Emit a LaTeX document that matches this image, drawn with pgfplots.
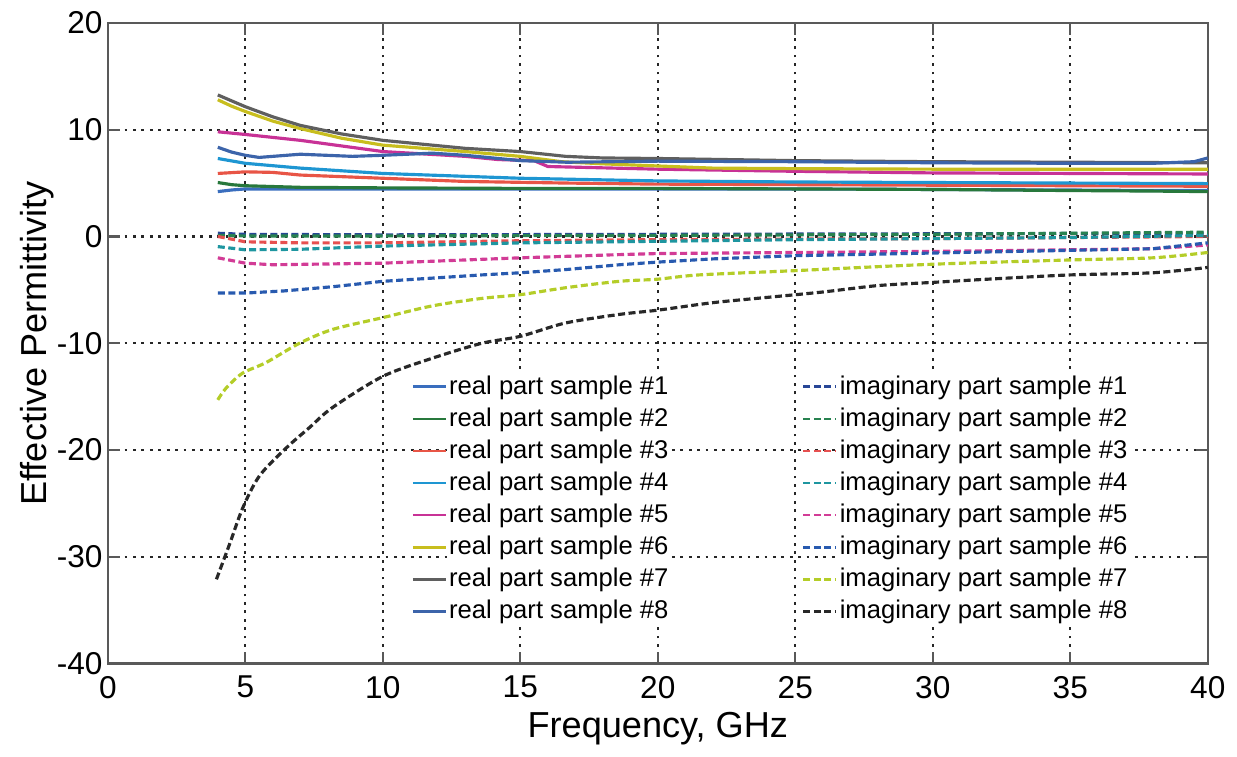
\documentclass[border=0pt]{standalone}
\usepackage{pgfplots}
\pgfplotsset{compat=1.18}
\usepackage{fontspec}
\setmainfont{Liberation Sans}
\definecolor{r1}{RGB}{58,110,190}
\definecolor{r2}{RGB}{40,120,60}
\definecolor{r3}{RGB}{232,85,70}
\definecolor{r4}{RGB}{30,150,210}
\definecolor{r5}{RGB}{200,50,150}
\definecolor{r6}{RGB}{200,190,30}
\definecolor{r7}{RGB}{95,95,95}
\definecolor{r8}{RGB}{60,100,170}
\definecolor{i1}{RGB}{40,70,150}
\definecolor{i2}{RGB}{40,130,80}
\definecolor{i3}{RGB}{230,80,80}
\definecolor{i4}{RGB}{30,150,160}
\definecolor{i5}{RGB}{210,60,150}
\definecolor{i6}{RGB}{40,90,175}
\definecolor{i7}{RGB}{180,205,40}
\definecolor{i8}{RGB}{40,40,40}
\begin{document}
\begin{tikzpicture}
\begin{axis}[
  scale only axis, width=11.02cm, height=6.42cm,
  xmin=0, xmax=40, ymin=-40, ymax=20,
  xtick={0,5,...,40}, ytick={-40,-30,...,20},
  grid=major,
  major grid style={black!85, line width=0.6pt, dash pattern=on 0.8pt off 1.6pt},
  axis line style={black!65, line width=0.7pt},
  tick style={black!65, line width=0.6pt},
  tick align=inside, major tick length=0.12cm,
  /pgf/number format/assume math mode=true,
  ticklabel style={font=\fontsize{9}{10}\selectfont},
  yticklabel style={xshift=2pt},
  label style={font=\fontsize{10.3}{12}\selectfont},
  xlabel={Frequency, GHz},
  ylabel={Effective Permittivity},
  xlabel style={yshift=3pt},
  ylabel style={yshift=-6pt},
  legend columns=2,
  legend image code/.code={\draw[#1,line width=0.75pt] (0cm,0cm) -- (0.33cm,0cm);},
  legend style={at={(axis cs:11.02,-12.5)}, anchor=north west, draw=none, fill=none,
    font=\fontsize{7.3}{8}\selectfont, inner sep=0pt, row sep=0pt,
    nodes={fill=white, inner sep=0.6pt, text height=6.1pt, text depth=1.85pt},
    /tikz/every even column/.append style={column sep=37.5pt}},
  legend cell align=left,
  every axis plot/.append style={line width=0.9pt},
  idash/.style={dash pattern=on 2pt off 1pt},
]
% sample 1
\addplot[r1] coordinates {(4,4.2)(4.5,4.35)(5,4.45)(7,4.45)(10,4.45)(15,4.45)(20,4.45)(25,4.45)(30,4.4)(35,4.35)(38,4.3)(40,4.3)};
\addlegendentry{real part sample \#1}
\addplot[i1,idash] coordinates {(4,0.3)(5,0.2)(10,0.15)(20,0.2)(30,0.25)(40,0.3)};
\addlegendentry{imaginary part sample \#1}
% sample 2
\addplot[r2] coordinates {(4,5.05)(4.5,4.85)(5,4.75)(7,4.6)(10,4.55)(15,4.5)(20,4.5)(25,4.45)(30,4.4)(35,4.3)(38,4.25)(40,4.2)};
\addlegendentry{real part sample \#2}
\addplot[i2,idash] coordinates {(4,0.1)(5,0.05)(10,0.05)(20,0.1)(30,0.2)(40,0.4)};
\addlegendentry{imaginary part sample \#2}
% sample 3
\addplot[r3] coordinates {(4,5.9)(5,6.05)(6,6.0)(7,5.75)(10,5.45)(13,5.15)(16.7,5.0)(20,4.9)(25,4.85)(30,4.8)(35,4.75)(40,4.7)};
\addlegendentry{real part sample \#3}
\addplot[i3,idash] coordinates {(4,0)(5,-0.5)(7,-0.6)(10,-0.6)(15,-0.4)(20,-0.3)(30,-0.2)(40,0.0)};
\addlegendentry{imaginary part sample \#3}
% sample 4
\addplot[r4] coordinates {(4,7.3)(5,6.85)(7,6.4)(10,5.9)(15,5.45)(20,5.2)(25,5.1)(30,5.05)(35,5.0)(40,4.95)};
\addlegendentry{real part sample \#4}
\addplot[i4,idash] coordinates {(4,-0.95)(5,-1.25)(7,-1.2)(10,-0.9)(15,-0.6)(20,-0.45)(25,-0.3)(30,-0.2)(35,-0.1)(40,0.1)};
\addlegendentry{imaginary part sample \#4}
% sample 5
\addplot[r5] coordinates {(4,9.8)(5,9.55)(7,9.0)(10,7.95)(13,7.5)(14.2,7.2)(15.5,7.1)(16,6.55)(20,6.3)(25,6.1)(30,5.95)(35,5.9)(40,5.85)};
\addlegendentry{real part sample \#5}
\addplot[i5,idash] coordinates {(4,-2.0)(5,-2.5)(6,-2.65)(10,-2.5)(15,-2.0)(18.6,-1.7)(20,-1.6)(25,-1.5)(30,-1.4)(35,-1.25)(38,-1.15)(40,-0.8)};
\addlegendentry{imaginary part sample \#5}
% sample 6
\addplot[r6] coordinates {(4,12.8)(4.5,12.2)(5,11.7)(6,10.8)(7,10.1)(8.5,9.2)(10,8.55)(13,7.95)(15,7.5)(16.5,7.0)(18,6.8)(20,6.6)(22,6.4)(25,6.35)(30,6.3)(35,6.3)(40,6.3)};
\addlegendentry{real part sample \#6}
\addplot[i6,idash] coordinates {(4,-5.3)(5,-5.3)(6.4,-5.1)(8.2,-4.7)(10,-4.2)(11.8,-3.9)(13.6,-3.6)(15,-3.4)(16.65,-3.1)(18.6,-2.65)(20,-2.4)(22,-2.1)(25,-1.8)(30,-1.55)(35,-1.3)(38,-1.15)(40,-0.6)};
\addlegendentry{imaginary part sample \#6}
% sample 7
\addplot[r7] coordinates {(4,13.25)(4.5,12.7)(5,12.15)(6,11.2)(7,10.4)(8.5,9.6)(10,9.0)(13,8.25)(15,7.95)(16.65,7.5)(18,7.35)(20,7.3)(25,7.1)(30,7.0)(35,6.95)(40,6.9)};
\addlegendentry{real part sample \#7}
\addplot[i7,idash,smooth] coordinates {(4,-15.3)(4.3,-14.2)(4.9,-12.8)(5.76,-11.8)(6.97,-10.0)(8.18,-8.7)(10,-7.6)(11.8,-6.5)(13.6,-5.8)(15,-5.45)(16.65,-4.8)(18.6,-4.2)(20,-4.0)(21.5,-3.6)(25,-3.2)(30,-2.6)(35,-2.2)(38,-2.0)(40,-1.5)};
\addlegendentry{imaginary part sample \#7}
% sample 8
\addplot[r8] coordinates {(4,8.35)(4.5,7.9)(5,7.6)(5.5,7.4)(7,7.7)(8.9,7.5)(10,7.6)(11.8,7.8)(13,7.6)(15,7.1)(16.7,6.95)(20,7.05)(25,7.0)(30,6.9)(35,6.85)(38,6.85)(39.5,7.0)(40,7.35)};
\addlegendentry{real part sample \#8}
\addplot[i8,idash,smooth] coordinates {(3.95,-32.1)(4.43,-28.8)(4.91,-25.4)(5.52,-22.4)(6.49,-19.8)(7.33,-17.9)(8.18,-16.0)(10,-13.1)(11.8,-11.4)(13.6,-10.0)(15,-9.35)(16.65,-8.1)(18.6,-7.3)(20,-6.9)(22,-6.2)(24,-5.7)(26,-5.2)(28,-4.6)(30,-4.3)(32,-4.0)(35,-3.6)(38,-3.4)(40,-2.9)};
\addlegendentry{imaginary part sample \#8}
\end{axis}
\path ([xshift=-1.08cm,yshift=-0.78cm]current axis.south west) rectangle ([xshift=0.27cm,yshift=0.21cm]current axis.north east);
\end{tikzpicture}
\end{document}
